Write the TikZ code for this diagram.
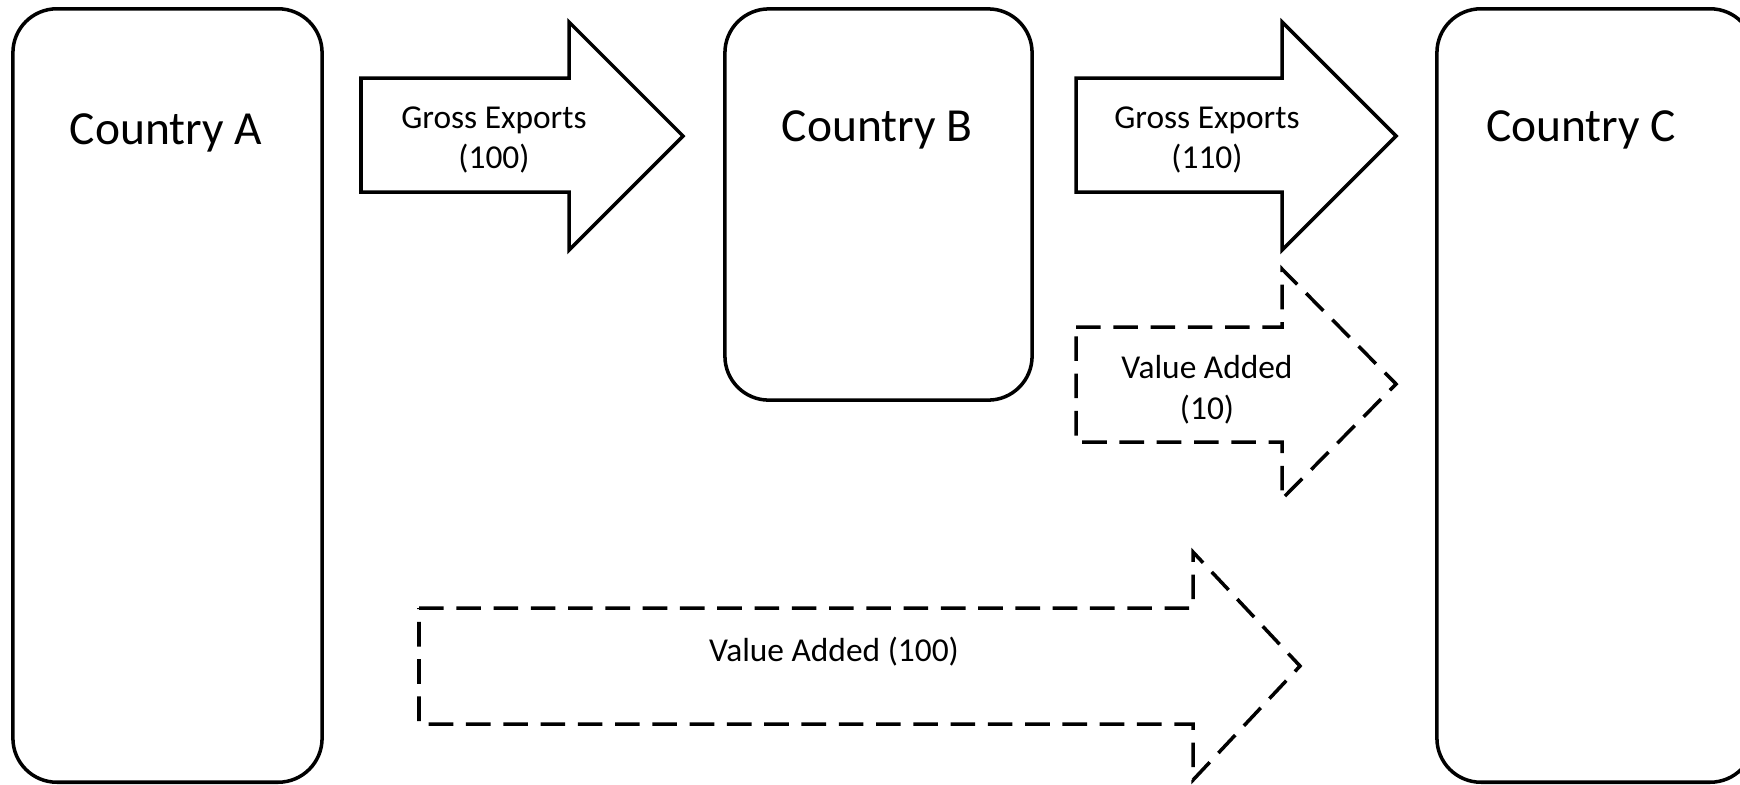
\documentclass[tikz,border=0pt]{standalone}
\usepackage{fontspec}
\setmainfont{Carlito}
\usetikzlibrary{positioning}

\tikzset{
    country/.style={draw, line width=1pt, rounded corners=12.5pt, inner sep=0pt},
    cname/.style={font=\fontsize{13.5}{16}\selectfont},
    flowtext/.style={font=\fontsize{9.5}{11.6}\selectfont, align=center},
    gross/.style={draw, line width=1pt, line join=miter},
    added/.style={draw, line width=1pt, dash pattern=on 7pt off 3.6pt}
}

\begin{document}
\begin{tikzpicture}[x=0.01cm, y=-0.01cm]
                    \useasboundingbox (0,0) rectangle (1740,784);
                    \clip (0,0) rectangle (1740,784);
                    % Nodes
                    \node[country, minimum width=3.09cm, minimum height=7.73cm] (A) at (167.5,395.5) {};
                    \node[country, minimum width=3.07cm, minimum height=3.91cm] (B) at (878.5,204.5) {};
                    \node[country, minimum width=3.17cm, minimum height=7.73cm] (C) at (1595.5,395.5) {};
                    \node[cname] (nameA) at (166,133) {Country A};
                    \node[cname] (nameB) at (877,130) {Country B};
                    \node[cname] (nameC) at (1581,130) {Country C};
                    % Arrows
                    \draw[gross] (361,78) -- (569,78) -- (569,22) -- (683,136) -- (569,250) -- (569,192) -- (361,192) -- cycle;
                    \draw[gross] (1076,78) -- (1282,78) -- (1282,22) -- (1396,136) -- (1282,250) -- (1282,192) -- (1076,192) -- cycle;
                    \draw[added] (1076,327) -- (1282,327) -- (1282,269) -- (1396,384) -- (1282,499) -- (1282,442) -- (1076,442) -- cycle;
                    \draw[added] (419,608) -- (1193,608) -- (1193,552) -- (1300,666) -- (1193,780) -- (1193,724) -- (419,724) -- cycle;
                    % Labels
                    \node[flowtext] (ge1) at (494,140) {Gross Exports\\(100)};
                    \node[flowtext] (ge2) at (1207,140) {Gross Exports\\(110)};
                    \node[flowtext] (va1) at (1207,390) {Value Added\\(10)};
                    \node[flowtext] (va2) at (834,652) {Value Added (100)};
                \end{tikzpicture}
\end{document}
